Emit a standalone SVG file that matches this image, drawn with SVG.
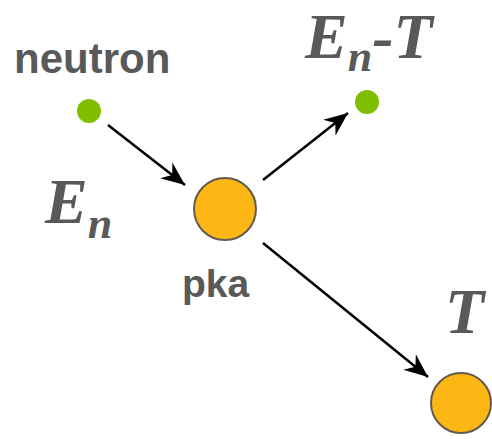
<svg xmlns="http://www.w3.org/2000/svg" width="492" height="439" viewBox="0 0 492 439">
<style>
.lbl{font-family:"Liberation Sans",Arial,sans-serif;font-weight:bold;fill:#595959}
.math{font-family:"Liberation Serif","Times New Roman",serif;font-weight:bold;font-style:italic;fill:#595959}
.small{fill:#7fbf00}
.big{fill:#fdb714;stroke:#635a4c;stroke-width:2}
.conn{stroke:#000;stroke-width:2.5;fill:none;marker-end:url(#ah)}
</style>
<defs>
<marker id="ah" markerUnits="userSpaceOnUse" markerWidth="30" markerHeight="30" refX="0" refY="0" viewBox="-20 -10 24 20" orient="auto">
<path d="M0,0 L-19,-8 L-13,0 L-19,8 Z" fill="#000"/>
</marker>
</defs>
<g id="neutron">
<circle class="small" cx="89" cy="111" r="12"/>
<text class="lbl" x="14" y="73" font-size="42">neutron</text>
<text class="math" x="45" y="223" font-size="64">E<tspan font-size="44" dy="15">n</tspan></text>
</g>
<g id="pka">
<circle class="big" cx="225" cy="209" r="31"/>
<text class="lbl" x="182" y="297" font-size="39">pka</text>
</g>
<g id="scattered">
<circle class="small" cx="367" cy="102" r="12"/>
<text class="math" x="305" y="58" font-size="64">E<tspan font-size="44" dy="13">n</tspan><tspan dy="-13">-T</tspan></text>
</g>
<g id="recoil">
<circle class="big" cx="461" cy="403" r="30"/>
<text class="math" x="445" y="333" font-size="64">T</text>
</g>
<g id="connectors">
<line class="conn" x1="108" y1="125" x2="185" y2="185"/>
<line class="conn" x1="263" y1="180" x2="348" y2="113"/>
<line class="conn" x1="263" y1="243" x2="428" y2="377"/>
</g>
</svg>
